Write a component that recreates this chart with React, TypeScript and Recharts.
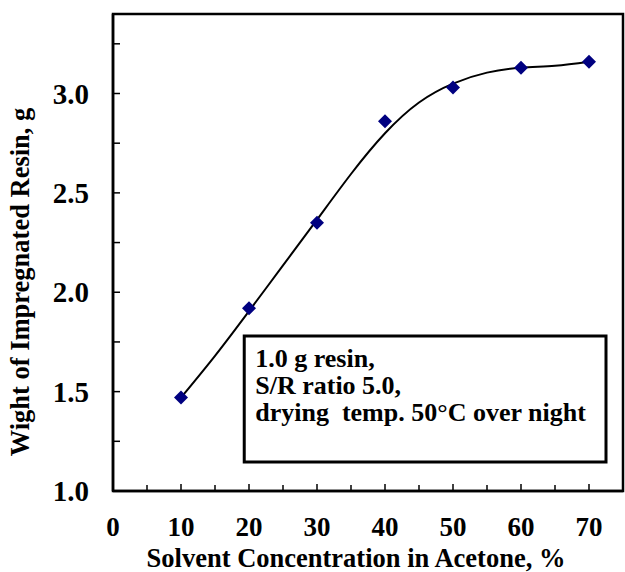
import { ComposedChart, XAxis, YAxis, Line, Scatter, ReferenceArea, Label } from 'recharts'

// measured points (diamonds)
const SOLVENT_PCT = [10, 20, 30, 40, 50, 60, 70]
const RESIN_WEIGHT = [1.47, 1.92, 2.35, 2.86, 3.03, 3.13, 3.16]

// fitted curve
const CURVE_PCT = [10, 15, 20, 25, 30, 35, 40, 45, 50, 55, 60, 65, 70]
const CURVE_WEIGHT = [1.47, 1.68, 1.905, 2.135, 2.365, 2.595, 2.8, 2.955, 3.05, 3.105, 3.13, 3.14, 3.16]

const X_TICKS = [0, 5, 10, 15, 20, 25, 30, 35, 40, 45, 50, 55, 60, 65, 70]
const X_LABELS = [0, 10, 20, 30, 40, 50, 60, 70]
const Y_TICKS = [1.0, 1.25, 1.5, 1.75, 2.0, 2.25, 2.5, 2.75, 3.0, 3.25]
const Y_LABELS = [1.0, 1.5, 2.0, 2.5, 3.0]

const NOTE_LINES = ['1.0 g resin,', 'S/R ratio 5.0,', 'drying  temp. 50°C over night']

const X_TITLE = 'Solvent Concentration in Acetone, %'
const Y_TITLE = 'Wight of Impregnated Resin, g'

const FONT = '"Liberation Serif", "Times New Roman", serif'

const points = SOLVENT_PCT.map((x, i) => ({ x, y: RESIN_WEIGHT[i] }))
const curve = CURVE_PCT.map((x, i) => ({ x, y: CURVE_WEIGHT[i] }))

function XTick({ x, y, payload }: any) {
  const major = X_LABELS.includes(payload.value)
  return (
    <g>
      <line x1={x} x2={x} y1={y} y2={y - (major ? 7 : 6)} stroke="#000" strokeWidth={1.5} />
      {major && (
        <text x={x} y={y + 45} textAnchor="middle" fontFamily={FONT} fontWeight="bold" fontSize={27} fill="#000">
          {payload.value}
        </text>
      )}
    </g>
  )
}

function YTick({ x, y, payload }: any) {
  const major = Y_LABELS.includes(payload.value)
  return (
    <g>
      <line x1={x} x2={x + 7} y1={y} y2={y} stroke="#000" strokeWidth={1.5} />
      {major && (
        <text x={x - 24} y={y + 10} textAnchor="end" fontFamily={FONT} fontWeight="bold" fontSize={29} fill="#000">
          {payload.value.toFixed(1)}
        </text>
      )}
    </g>
  )
}

function Diamond({ cx, cy }: any) {
  const r = 7
  return <polygon points={`${cx},${cy - r} ${cx + r},${cy} ${cx},${cy + r} ${cx - r},${cy}`} fill="#000080" />
}

function NoteText({ viewBox }: any) {
  const { x, y } = viewBox
  return (
    <g>
      {NOTE_LINES.map((line, i) => (
        <text
          key={i}
          x={x + 11}
          y={y + 31 + i * 27}
          fontFamily={FONT}
          fontWeight="bold"
          fontSize={26}
          fill="#000"
          style={{ whiteSpace: 'pre' }}
        >
          {line}
        </text>
      ))}
    </g>
  )
}

function XTitle() {
  return (
    <text x={356} y={567} textAnchor="middle" fontFamily={FONT} fontWeight="bold" fontSize={26.5} fill="#000">
      {X_TITLE}
    </text>
  )
}

function YTitle() {
  return (
    <text
      x={29}
      y={282}
      transform="rotate(-90, 29, 282)"
      textAnchor="middle"
      fontFamily={FONT}
      fontWeight="bold"
      fontSize={26.5}
      fill="#000"
    >
      {Y_TITLE}
    </text>
  )
}

export default function App() {
  return (
    <div style={{ position: 'absolute', left: 0, top: 0, width: 625, height: 572, background: '#fff' }}>
      <ComposedChart width={625} height={572} margin={{ top: 14, right: 2, bottom: 0, left: 0 }}>
        <XAxis
          dataKey="x"
          type="number"
          domain={[0, 75]}
          ticks={X_TICKS}
          interval={0}
          height={81}
          tickLine={false}
          tickSize={0}
          tickMargin={0}
          tick={<XTick />}
          axisLine={{ stroke: '#000', strokeWidth: 2.5 }}
          label={{ content: <XTitle /> }}
        />
        <YAxis
          dataKey="y"
          type="number"
          domain={[1, 3.4]}
          ticks={Y_TICKS}
          interval={0}
          width={113}
          tickLine={false}
          tickSize={0}
          tickMargin={0}
          tick={<YTick />}
          axisLine={{ stroke: '#000', strokeWidth: 2.5 }}
          label={{ content: <YTitle /> }}
        />

        {/* frame around the plot area */}
        <ReferenceArea x1={0} x2={75} y1={1} y2={3.4} fill="none" stroke="#000" strokeWidth={2.5} />

        {/* condition box */}
        <ReferenceArea
          x1={19.3}
          x2={72.5}
          y1={1.146}
          y2={1.78}
          fill="#fff"
          fillOpacity={1}
          stroke="#000"
          strokeWidth={3}
        >
          <Label content={<NoteText />} />
        </ReferenceArea>

        <Line
          data={curve}
          dataKey="y"
          type="natural"
          stroke="#000"
          strokeWidth={2}
          dot={false}
          activeDot={false}
          isAnimationActive={false}
        />
        <Scatter data={points} dataKey="y" fill="#000080" shape={<Diamond />} isAnimationActive={false} />
      </ComposedChart>
    </div>
  )
}
